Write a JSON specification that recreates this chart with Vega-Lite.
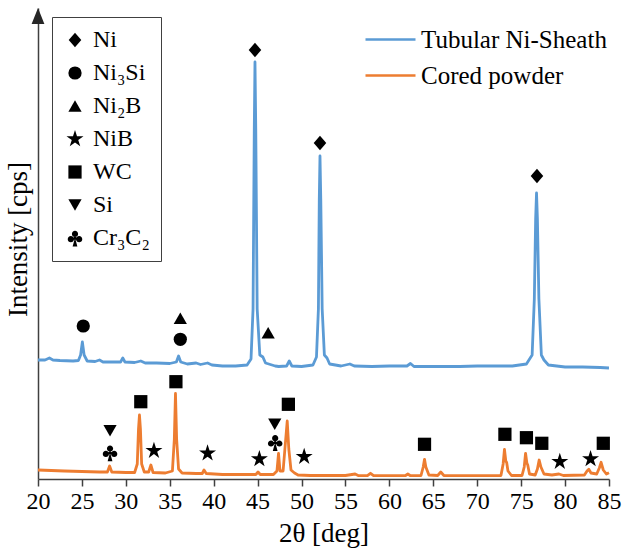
{
  "$schema": "https://vega.github.io/schema/vega-lite/v6.json",
  "width": 571,
  "height": 471,
  "autosize": {"type": "none"},
  "padding": {"left": 38, "top": 8, "right": 15, "bottom": 74},
  "background": "white",
  "config": {
    "view": {"stroke": null},
    "font": "Liberation Serif, Times New Roman, DejaVu Serif, serif",
    "axis": {"labelFont": "Liberation Serif, Times New Roman, DejaVu Serif, serif", "titleFont": "Liberation Serif, Times New Roman, DejaVu Serif, serif", "titleFontWeight": "normal", "labelColor": "black", "titleColor": "black", "grid": false},
    "legend": {"labelFont": "Liberation Serif, Times New Roman, DejaVu Serif, serif", "labelColor": "black", "labelLimit": 400}
  },
  "datasets": {
    "spectra": [
      {"sample": "Tubular Ni-Sheath", "two_theta": 20.0, "intensity": 119},
      {"sample": "Tubular Ni-Sheath", "two_theta": 20.8, "intensity": 119},
      {"sample": "Tubular Ni-Sheath", "two_theta": 21.3, "intensity": 121},
      {"sample": "Tubular Ni-Sheath", "two_theta": 21.7, "intensity": 119},
      {"sample": "Tubular Ni-Sheath", "two_theta": 22.5, "intensity": 118.5},
      {"sample": "Tubular Ni-Sheath", "two_theta": 24.0, "intensity": 118},
      {"sample": "Tubular Ni-Sheath", "two_theta": 24.6, "intensity": 118.5},
      {"sample": "Tubular Ni-Sheath", "two_theta": 24.85, "intensity": 124},
      {"sample": "Tubular Ni-Sheath", "two_theta": 25.05, "intensity": 137},
      {"sample": "Tubular Ni-Sheath", "two_theta": 25.25, "intensity": 124},
      {"sample": "Tubular Ni-Sheath", "two_theta": 25.6, "intensity": 118},
      {"sample": "Tubular Ni-Sheath", "two_theta": 26.5, "intensity": 117.5},
      {"sample": "Tubular Ni-Sheath", "two_theta": 27.0, "intensity": 119},
      {"sample": "Tubular Ni-Sheath", "two_theta": 27.4, "intensity": 117},
      {"sample": "Tubular Ni-Sheath", "two_theta": 28.5, "intensity": 117},
      {"sample": "Tubular Ni-Sheath", "two_theta": 29.4, "intensity": 117},
      {"sample": "Tubular Ni-Sheath", "two_theta": 29.65, "intensity": 121},
      {"sample": "Tubular Ni-Sheath", "two_theta": 29.9, "intensity": 117},
      {"sample": "Tubular Ni-Sheath", "two_theta": 31.0, "intensity": 116.5},
      {"sample": "Tubular Ni-Sheath", "two_theta": 31.7, "intensity": 118},
      {"sample": "Tubular Ni-Sheath", "two_theta": 32.2, "intensity": 116},
      {"sample": "Tubular Ni-Sheath", "two_theta": 33.5, "intensity": 116},
      {"sample": "Tubular Ni-Sheath", "two_theta": 35.0, "intensity": 115.5},
      {"sample": "Tubular Ni-Sheath", "two_theta": 35.75, "intensity": 117},
      {"sample": "Tubular Ni-Sheath", "two_theta": 36.0, "intensity": 123},
      {"sample": "Tubular Ni-Sheath", "two_theta": 36.25, "intensity": 117},
      {"sample": "Tubular Ni-Sheath", "two_theta": 37.0, "intensity": 115},
      {"sample": "Tubular Ni-Sheath", "two_theta": 38.0, "intensity": 116},
      {"sample": "Tubular Ni-Sheath", "two_theta": 38.5, "intensity": 114.5},
      {"sample": "Tubular Ni-Sheath", "two_theta": 39.3, "intensity": 116},
      {"sample": "Tubular Ni-Sheath", "two_theta": 39.8, "intensity": 114},
      {"sample": "Tubular Ni-Sheath", "two_theta": 41.0, "intensity": 113},
      {"sample": "Tubular Ni-Sheath", "two_theta": 42.5, "intensity": 113},
      {"sample": "Tubular Ni-Sheath", "two_theta": 43.8, "intensity": 114},
      {"sample": "Tubular Ni-Sheath", "two_theta": 44.25, "intensity": 120},
      {"sample": "Tubular Ni-Sheath", "two_theta": 44.48, "intensity": 170},
      {"sample": "Tubular Ni-Sheath", "two_theta": 44.62, "intensity": 350},
      {"sample": "Tubular Ni-Sheath", "two_theta": 44.7, "intensity": 417},
      {"sample": "Tubular Ni-Sheath", "two_theta": 44.79, "intensity": 350},
      {"sample": "Tubular Ni-Sheath", "two_theta": 44.95, "intensity": 170},
      {"sample": "Tubular Ni-Sheath", "two_theta": 45.25, "intensity": 124},
      {"sample": "Tubular Ni-Sheath", "two_theta": 45.6, "intensity": 122},
      {"sample": "Tubular Ni-Sheath", "two_theta": 45.9, "intensity": 116},
      {"sample": "Tubular Ni-Sheath", "two_theta": 47.0, "intensity": 113},
      {"sample": "Tubular Ni-Sheath", "two_theta": 47.4, "intensity": 112.5},
      {"sample": "Tubular Ni-Sheath", "two_theta": 48.3, "intensity": 113},
      {"sample": "Tubular Ni-Sheath", "two_theta": 48.6, "intensity": 118},
      {"sample": "Tubular Ni-Sheath", "two_theta": 48.9, "intensity": 113},
      {"sample": "Tubular Ni-Sheath", "two_theta": 50.0, "intensity": 112.5},
      {"sample": "Tubular Ni-Sheath", "two_theta": 51.3, "intensity": 114},
      {"sample": "Tubular Ni-Sheath", "two_theta": 51.7, "intensity": 122},
      {"sample": "Tubular Ni-Sheath", "two_theta": 51.92, "intensity": 170},
      {"sample": "Tubular Ni-Sheath", "two_theta": 52.02, "intensity": 280},
      {"sample": "Tubular Ni-Sheath", "two_theta": 52.1, "intensity": 323},
      {"sample": "Tubular Ni-Sheath", "two_theta": 52.19, "intensity": 280},
      {"sample": "Tubular Ni-Sheath", "two_theta": 52.35, "intensity": 170},
      {"sample": "Tubular Ni-Sheath", "two_theta": 52.6, "intensity": 124},
      {"sample": "Tubular Ni-Sheath", "two_theta": 52.9, "intensity": 121},
      {"sample": "Tubular Ni-Sheath", "two_theta": 53.2, "intensity": 115},
      {"sample": "Tubular Ni-Sheath", "two_theta": 54.5, "intensity": 113},
      {"sample": "Tubular Ni-Sheath", "two_theta": 55.5, "intensity": 115},
      {"sample": "Tubular Ni-Sheath", "two_theta": 56.0, "intensity": 113},
      {"sample": "Tubular Ni-Sheath", "two_theta": 58.0, "intensity": 112.5},
      {"sample": "Tubular Ni-Sheath", "two_theta": 60.0, "intensity": 113},
      {"sample": "Tubular Ni-Sheath", "two_theta": 62.0, "intensity": 113},
      {"sample": "Tubular Ni-Sheath", "two_theta": 62.4, "intensity": 115.5},
      {"sample": "Tubular Ni-Sheath", "two_theta": 62.8, "intensity": 112.5},
      {"sample": "Tubular Ni-Sheath", "two_theta": 65.0, "intensity": 112.5},
      {"sample": "Tubular Ni-Sheath", "two_theta": 68.0, "intensity": 112.5},
      {"sample": "Tubular Ni-Sheath", "two_theta": 70.0, "intensity": 113},
      {"sample": "Tubular Ni-Sheath", "two_theta": 72.5, "intensity": 113},
      {"sample": "Tubular Ni-Sheath", "two_theta": 74.0, "intensity": 113},
      {"sample": "Tubular Ni-Sheath", "two_theta": 75.6, "intensity": 115},
      {"sample": "Tubular Ni-Sheath", "two_theta": 76.25, "intensity": 124},
      {"sample": "Tubular Ni-Sheath", "two_theta": 76.5, "intensity": 180},
      {"sample": "Tubular Ni-Sheath", "two_theta": 76.65, "intensity": 260},
      {"sample": "Tubular Ni-Sheath", "two_theta": 76.75, "intensity": 286},
      {"sample": "Tubular Ni-Sheath", "two_theta": 76.85, "intensity": 260},
      {"sample": "Tubular Ni-Sheath", "two_theta": 77.02, "intensity": 180},
      {"sample": "Tubular Ni-Sheath", "two_theta": 77.3, "intensity": 124},
      {"sample": "Tubular Ni-Sheath", "two_theta": 77.6, "intensity": 119},
      {"sample": "Tubular Ni-Sheath", "two_theta": 78.1, "intensity": 114},
      {"sample": "Tubular Ni-Sheath", "two_theta": 80.0, "intensity": 112},
      {"sample": "Tubular Ni-Sheath", "two_theta": 82.0, "intensity": 112},
      {"sample": "Tubular Ni-Sheath", "two_theta": 84.0, "intensity": 111.5},
      {"sample": "Tubular Ni-Sheath", "two_theta": 85.0, "intensity": 111},
      {"sample": "Cored powder", "two_theta": 20.0, "intensity": 9},
      {"sample": "Cored powder", "two_theta": 21.5, "intensity": 8.5},
      {"sample": "Cored powder", "two_theta": 23.0, "intensity": 8},
      {"sample": "Cored powder", "two_theta": 25.0, "intensity": 7.5},
      {"sample": "Cored powder", "two_theta": 27.0, "intensity": 7},
      {"sample": "Cored powder", "two_theta": 27.9, "intensity": 7},
      {"sample": "Cored powder", "two_theta": 28.15, "intensity": 13},
      {"sample": "Cored powder", "two_theta": 28.4, "intensity": 7},
      {"sample": "Cored powder", "two_theta": 30.0, "intensity": 6.5},
      {"sample": "Cored powder", "two_theta": 31.0, "intensity": 6.5},
      {"sample": "Cored powder", "two_theta": 31.3, "intensity": 15},
      {"sample": "Cored powder", "two_theta": 31.44, "intensity": 50},
      {"sample": "Cored powder", "two_theta": 31.55, "intensity": 64},
      {"sample": "Cored powder", "two_theta": 31.66, "intensity": 50},
      {"sample": "Cored powder", "two_theta": 31.8, "intensity": 15},
      {"sample": "Cored powder", "two_theta": 32.1, "intensity": 7},
      {"sample": "Cored powder", "two_theta": 32.6, "intensity": 7},
      {"sample": "Cored powder", "two_theta": 32.85, "intensity": 14},
      {"sample": "Cored powder", "two_theta": 33.1, "intensity": 6.5},
      {"sample": "Cored powder", "two_theta": 34.5, "intensity": 6},
      {"sample": "Cored powder", "two_theta": 35.3, "intensity": 8},
      {"sample": "Cored powder", "two_theta": 35.52, "intensity": 40},
      {"sample": "Cored powder", "two_theta": 35.65, "intensity": 85.5},
      {"sample": "Cored powder", "two_theta": 35.78, "intensity": 40},
      {"sample": "Cored powder", "two_theta": 36.0, "intensity": 10},
      {"sample": "Cored powder", "two_theta": 36.4, "intensity": 6},
      {"sample": "Cored powder", "two_theta": 38.0, "intensity": 5.5},
      {"sample": "Cored powder", "two_theta": 38.7, "intensity": 5.5},
      {"sample": "Cored powder", "two_theta": 38.9, "intensity": 9},
      {"sample": "Cored powder", "two_theta": 39.15, "intensity": 5.5},
      {"sample": "Cored powder", "two_theta": 41.0, "intensity": 4.5},
      {"sample": "Cored powder", "two_theta": 44.0, "intensity": 4.5},
      {"sample": "Cored powder", "two_theta": 44.8, "intensity": 4.5},
      {"sample": "Cored powder", "two_theta": 45.05, "intensity": 7},
      {"sample": "Cored powder", "two_theta": 45.3, "intensity": 4.5},
      {"sample": "Cored powder", "two_theta": 46.8, "intensity": 4.5},
      {"sample": "Cored powder", "two_theta": 47.2, "intensity": 8},
      {"sample": "Cored powder", "two_theta": 47.38, "intensity": 25.7},
      {"sample": "Cored powder", "two_theta": 47.55, "intensity": 8},
      {"sample": "Cored powder", "two_theta": 47.9, "intensity": 8},
      {"sample": "Cored powder", "two_theta": 48.2, "intensity": 40},
      {"sample": "Cored powder", "two_theta": 48.37, "intensity": 58},
      {"sample": "Cored powder", "two_theta": 48.55, "intensity": 30},
      {"sample": "Cored powder", "two_theta": 48.8, "intensity": 9},
      {"sample": "Cored powder", "two_theta": 49.2, "intensity": 6},
      {"sample": "Cored powder", "two_theta": 49.6, "intensity": 4},
      {"sample": "Cored powder", "two_theta": 51.0, "intensity": 3.5},
      {"sample": "Cored powder", "two_theta": 55.0, "intensity": 3.5},
      {"sample": "Cored powder", "two_theta": 56.1, "intensity": 5},
      {"sample": "Cored powder", "two_theta": 56.5, "intensity": 3.3},
      {"sample": "Cored powder", "two_theta": 57.5, "intensity": 3.3},
      {"sample": "Cored powder", "two_theta": 57.85, "intensity": 5.7},
      {"sample": "Cored powder", "two_theta": 58.2, "intensity": 3.3},
      {"sample": "Cored powder", "two_theta": 61.8, "intensity": 3.3},
      {"sample": "Cored powder", "two_theta": 62.1, "intensity": 5},
      {"sample": "Cored powder", "two_theta": 62.4, "intensity": 3.3},
      {"sample": "Cored powder", "two_theta": 63.6, "intensity": 3.5},
      {"sample": "Cored powder", "two_theta": 63.85, "intensity": 12},
      {"sample": "Cored powder", "two_theta": 64.0, "intensity": 19.7},
      {"sample": "Cored powder", "two_theta": 64.15, "intensity": 12},
      {"sample": "Cored powder", "two_theta": 64.5, "intensity": 4},
      {"sample": "Cored powder", "two_theta": 65.5, "intensity": 3.5},
      {"sample": "Cored powder", "two_theta": 65.85, "intensity": 7},
      {"sample": "Cored powder", "two_theta": 66.2, "intensity": 3.5},
      {"sample": "Cored powder", "two_theta": 70.0, "intensity": 3.3},
      {"sample": "Cored powder", "two_theta": 72.7, "intensity": 3.5},
      {"sample": "Cored powder", "two_theta": 72.95, "intensity": 15},
      {"sample": "Cored powder", "two_theta": 73.1, "intensity": 29.7},
      {"sample": "Cored powder", "two_theta": 73.25, "intensity": 18},
      {"sample": "Cored powder", "two_theta": 73.35, "intensity": 16.5},
      {"sample": "Cored powder", "two_theta": 73.5, "intensity": 8},
      {"sample": "Cored powder", "two_theta": 73.9, "intensity": 3.5},
      {"sample": "Cored powder", "two_theta": 75.1, "intensity": 3.5},
      {"sample": "Cored powder", "two_theta": 75.35, "intensity": 12},
      {"sample": "Cored powder", "two_theta": 75.5, "intensity": 25.7},
      {"sample": "Cored powder", "two_theta": 75.65, "intensity": 16},
      {"sample": "Cored powder", "two_theta": 75.75, "intensity": 14},
      {"sample": "Cored powder", "two_theta": 75.95, "intensity": 5},
      {"sample": "Cored powder", "two_theta": 76.6, "intensity": 4},
      {"sample": "Cored powder", "two_theta": 76.85, "intensity": 10},
      {"sample": "Cored powder", "two_theta": 77.05, "intensity": 19},
      {"sample": "Cored powder", "two_theta": 77.25, "intensity": 12},
      {"sample": "Cored powder", "two_theta": 77.6, "intensity": 5},
      {"sample": "Cored powder", "two_theta": 78.5, "intensity": 4},
      {"sample": "Cored powder", "two_theta": 79.3, "intensity": 5},
      {"sample": "Cored powder", "two_theta": 79.8, "intensity": 3.5},
      {"sample": "Cored powder", "two_theta": 82.2, "intensity": 4},
      {"sample": "Cored powder", "two_theta": 82.5, "intensity": 8},
      {"sample": "Cored powder", "two_theta": 82.7, "intensity": 9.7},
      {"sample": "Cored powder", "two_theta": 82.95, "intensity": 6},
      {"sample": "Cored powder", "two_theta": 83.6, "intensity": 5},
      {"sample": "Cored powder", "two_theta": 83.9, "intensity": 11},
      {"sample": "Cored powder", "two_theta": 84.1, "intensity": 16.7},
      {"sample": "Cored powder", "two_theta": 84.35, "intensity": 9},
      {"sample": "Cored powder", "two_theta": 84.7, "intensity": 5},
      {"sample": "Cored powder", "two_theta": 85.0, "intensity": 6.3}
    ],
    "peaks": [
      {"phase": "Ni", "two_theta": 44.7, "intensity": 429},
      {"phase": "Ni", "two_theta": 52.1, "intensity": 336},
      {"phase": "Ni", "two_theta": 76.8, "intensity": 303},
      {"phase": "Ni₃Si", "two_theta": 25.15, "intensity": 153},
      {"phase": "Ni₃Si", "two_theta": 36.2, "intensity": 139.7},
      {"phase": "Ni₂B", "two_theta": 36.2, "intensity": 160.7},
      {"phase": "Ni₂B", "two_theta": 46.2, "intensity": 146.3},
      {"phase": "NiB", "two_theta": 33.2, "intensity": 28.3},
      {"phase": "NiB", "two_theta": 39.3, "intensity": 25.7},
      {"phase": "NiB", "two_theta": 45.2, "intensity": 20},
      {"phase": "NiB", "two_theta": 50.3, "intensity": 22.3},
      {"phase": "NiB", "two_theta": 79.4, "intensity": 17.3},
      {"phase": "NiB", "two_theta": 82.9, "intensity": 20},
      {"phase": "WC", "two_theta": 31.7, "intensity": 77.3},
      {"phase": "WC", "two_theta": 35.7, "intensity": 97.3},
      {"phase": "WC", "two_theta": 48.5, "intensity": 74.7},
      {"phase": "WC", "two_theta": 64.0, "intensity": 34.7},
      {"phase": "WC", "two_theta": 73.15, "intensity": 44.7},
      {"phase": "WC", "two_theta": 75.6, "intensity": 41.3},
      {"phase": "WC", "two_theta": 77.35, "intensity": 35.7},
      {"phase": "WC", "two_theta": 84.35, "intensity": 35.7},
      {"phase": "Si", "two_theta": 28.2, "intensity": 48.3},
      {"phase": "Si", "two_theta": 46.95, "intensity": 54.7},
      {"phase": "Cr₃C₂", "two_theta": 28.2, "intensity": 26.3},
      {"phase": "Cr₃C₂", "two_theta": 47.0, "intensity": 36.7}
    ],
    "axisArrow": [
      {"two_theta": 20, "intensity": 463}
    ]
  },
  "layer": [
    {
      "data": {"name": "spectra"},
      "mark": {"type": "line", "strokeWidth": 2.8, "interpolate": "linear", "strokeJoin": "round"},
      "encoding": {
        "x": {
          "field": "two_theta", "type": "quantitative",
          "scale": {"domain": [20, 85], "nice": false, "zero": false},
          "axis": {
            "title": "2θ [deg]", "values": [20, 25, 30, 35, 40, 45, 50, 55, 60, 65, 70, 75, 80, 85],
            "labelFontSize": 24, "titleFontSize": 27, "tickSize": 7, "tickWidth": 1.5, "tickColor": "#404040",
            "domainColor": "#404040", "domainWidth": 1.5, "labelPadding": 3, "titlePadding": 7, "labelFlush": false
          }
        },
        "y": {
          "field": "intensity", "type": "quantitative",
          "scale": {"domain": [0, 471], "nice": false, "zero": true},
          "axis": {
            "title": "Intensity [cps]", "ticks": false, "labels": false, "domainColor": "#404040", "domainWidth": 1.5,
            "titleFontSize": 27, "titleAngle": -90, "titleX": -20, "titleY": 231, "titleAlign": "center", "titleBaseline": "middle"
          }
        },
        "color": {
          "field": "sample", "type": "nominal",
          "scale": {"domain": ["Tubular Ni-Sheath", "Cored powder"], "range": ["#5B9BD5", "#ED7D31"]},
          "legend": {
            "title": null, "orient": "none", "legendX": 340, "legendY": 19, "padding": 0,
            "symbolType": "M-5,0H5", "symbolSize": 100, "symbolStrokeWidth": 2.5, "symbolFillColor": "transparent",
            "labelFontSize": 25, "rowPadding": 10, "labelOffset": 18, "labelLimit": 400
          }
        }
      }
    },
    {
      "data": {"name": "peaks"},
      "mark": {"type": "point", "filled": true, "color": "black", "opacity": 1, "size": 175, "strokeWidth": 0},
      "encoding": {
        "x": {"field": "two_theta", "type": "quantitative"},
        "y": {"field": "intensity", "type": "quantitative"},
        "shape": {
          "field": "phase", "type": "nominal",
          "scale": {
            "domain": ["Ni", "Ni₃Si", "Ni₂B", "NiB", "WC", "Si", "Cr₃C₂"],
            "range": [
              "M0,-1.1L0.95,0L0,1.1L-0.95,0Z", "circle", "triangle-up",
              "M0,-1.35L0.303,-0.417L1.284,-0.417L0.49,0.159L0.794,1.092L0,0.516L-0.794,1.092L-0.49,0.159L-1.284,-0.417L-0.303,-0.417Z",
              "square", "triangle-down",
              "M-0.47,-0.62A0.47,0.47,0,1,1,0.47,-0.62A0.47,0.47,0,1,1,-0.47,-0.62ZM-1.1,0.18A0.47,0.47,0,1,1,-0.16,0.18A0.47,0.47,0,1,1,-1.1,0.18ZM0.16,0.18A0.47,0.47,0,1,1,1.1,0.18A0.47,0.47,0,1,1,0.16,0.18ZM0,-0.4L0.4,0.25L-0.4,0.25ZM0.08,0.25L0.36,1.3L-0.36,1.3L-0.08,0.25Z"
            ]
          },
          "legend": {
            "title": null, "orient": "none", "legendX": 14, "legendY": 9, "padding": 11,
            "strokeColor": "#404040", "fillColor": "white",
            "symbolSize": 175, "symbolFillColor": "black", "symbolStrokeWidth": 0,
            "labelFontSize": 24, "rowPadding": 9, "labelOffset": 6
          }
        }
      }
    },
    {
      "data": {"name": "axisArrow"},
      "mark": {"type": "point", "shape": "M0,-1L0.8,1L-0.8,1Z", "size": 256, "filled": true, "color": "#262626", "opacity": 1, "strokeWidth": 0},
      "encoding": {
        "x": {"field": "two_theta", "type": "quantitative"},
        "y": {"field": "intensity", "type": "quantitative"}
      }
    }
  ]
}
